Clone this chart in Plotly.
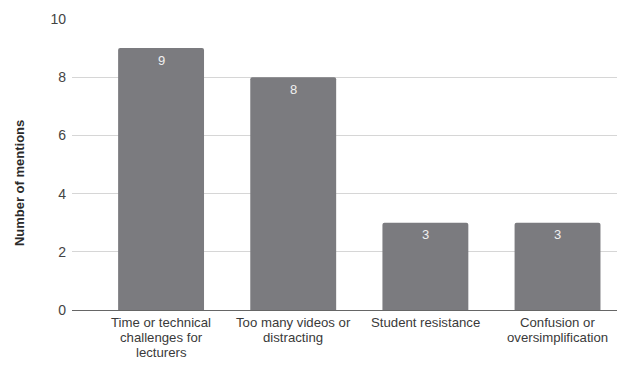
import plotly.graph_objects as go

categories = [
    "Time or technical\nchallenges for\nlecturers",
    "Too many videos or\ndistracting",
    "Student resistance",
    "Confusion or\noversimplification",
]
mentions = [9, 8, 3, 3]
y_ticks = [0, 2, 4, 6, 8, 10]
y_title = "Number of mentions"

FONT = "Liberation Sans, Arial"
positions = list(range(len(categories)))

fig = go.Figure(
    go.Bar(
        x=positions,
        y=mentions,
        width=0.65,
        marker=dict(color="#7b7b7f", line=dict(width=0), cornerradius=2),
        hoverinfo="skip",
    )
)

annotations = []

# value labels just inside the top of each bar
for pos, val in zip(positions, mentions):
    annotations.append(dict(
        x=pos, y=val, xref="x", yref="y",
        text=str(val), showarrow=False,
        xanchor="center", yanchor="middle", yshift=-12,
        font=dict(family=FONT, size=13, color="#f0f0f0"),
    ))

# category labels, one annotation per line for tight line spacing
line_step = 15
for pos, label in zip(positions, categories):
    for i, line in enumerate(label.split("\n")):
        annotations.append(dict(
            x=pos, y=0, xref="x", yref="paper",
            text=line, showarrow=False,
            xanchor="center", yanchor="middle",
            yshift=-12.5 - i * line_step,
            font=dict(family=FONT, size=13.2, color="#3a3a3a"),
        ))

# rotated y-axis title
annotations.append(dict(
    x=0, y=0.436, xref="paper", yref="paper",
    text=f"<b>{y_title}</b>", showarrow=False, textangle=-90,
    xanchor="center", yanchor="middle", xshift=-53,
    font=dict(family=FONT, size=13, color="#2a2a2a"),
))

fig.update_layout(
    width=617,
    height=373,
    margin=dict(l=72, r=0, t=19, b=63),
    paper_bgcolor="white",
    plot_bgcolor="white",
    font=dict(family=FONT, color="#444444", size=12),
    showlegend=False,
    annotations=annotations,
    xaxis=dict(
        range=[-0.674, 3.45],
        showticklabels=False,
        showgrid=False,
        zeroline=False,
        showline=False,
        ticks="",
    ),
    yaxis=dict(
        range=[0, 10],
        tickvals=y_ticks,
        tickfont=dict(size=14, color="#444444"),
        gridcolor="#d6d6d6",
        gridwidth=1,
        zeroline=True,
        zerolinecolor="#666666",
        zerolinewidth=1,
        ticks="",
        ticklabelstandoff=5,
    ),
)

fig.write_html("out.html")
